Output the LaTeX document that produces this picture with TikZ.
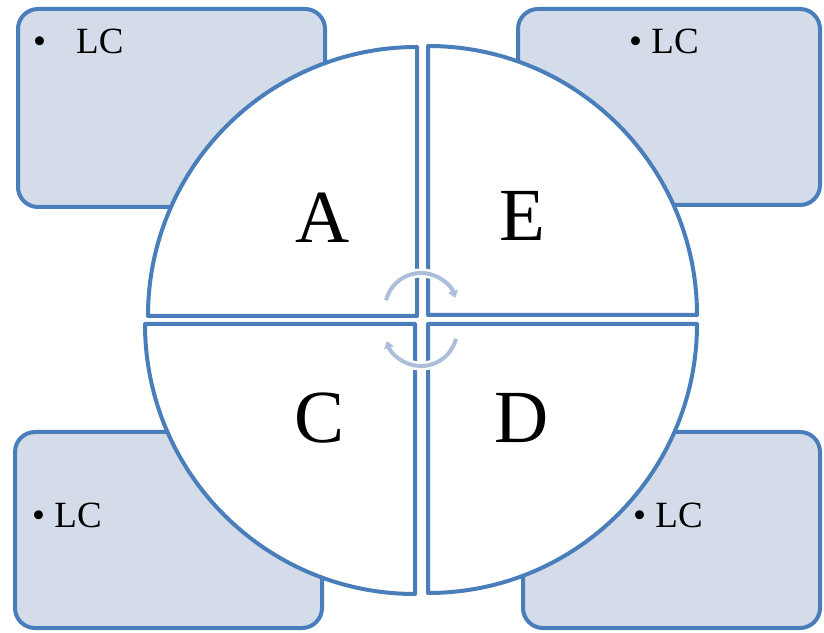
\documentclass[tikz,border=0pt]{standalone}
\usepackage{fontspec}
\setmainfont{Liberation Serif}
\usetikzlibrary{arrows.meta}
\definecolor{bord}{RGB}{74,126,187}
\definecolor{boxfill}{RGB}{212,220,234}
\definecolor{arrowc}{RGB}{172,190,218}
\tikzset{
  sidebox/.style={draw=bord, fill=boxfill, line width=4pt, rounded corners=20pt},
  quad/.style={draw=bord, fill=white, line width=4pt, line join=round},
  biglabel/.style={font=\fontsize{75}{75}\selectfont, inner sep=0pt},
  lclabel/.style={font=\fontsize{37}{37}\selectfont, inner sep=0pt, anchor=base west},
  cyc/.style={draw=arrowc, line width=4pt, -{Triangle[length=7pt,width=10pt]}},
  casing/.style={draw=white, line width=9pt}
}
\begin{document}
\begin{tikzpicture}[x=1pt,y=1pt]
\useasboundingbox (0,0) rectangle (824,632);
% side boxes
\draw[sidebox] (18,425) rectangle (325,623);
\draw[sidebox] (518,427) rectangle (820,623);
\draw[sidebox] (15,4) rectangle (322,200);
\draw[sidebox] (523,4) rectangle (820,200);
% quadrants
\draw[quad] (417,316) -- (148,316) arc[start angle=180,end angle=90,radius=269] -- cycle;
\draw[quad] (428,317) -- (428,586) arc[start angle=90,end angle=0,radius=269] -- cycle;
\draw[quad] (415,308) -- (145,308) arc[start angle=180,end angle=270,radius=270] -- cycle;
\draw[quad] (428,308) -- (697,308) arc[start angle=0,end angle=-90,radius=269] -- cycle;
% labels
\node[biglabel] (A) at (322.5,414) {A};
\node[biglabel] (E) at (522.5,416) {E};
\node[biglabel] (C) at (319.5,214) {C};
\node[biglabel] (D) at (522,214) {D};
% LC texts
\node[lclabel] (b1) at (33,578) {•};
\node[lclabel] (t1) at (76,578) {LC};
\node[lclabel] (t2) at (629,578) {• LC};
\node[lclabel] (t3) at (32,105) {• LC};
\node[lclabel] (t4) at (633,105) {• LC};
% cycle arrows
\draw[casing] (421,323) ++(166:36) arc[start angle=166,end angle=22,radius=36];
\draw[cyc] (421,323) ++(166:36) arc[start angle=166,end angle=18,radius=36];
\draw[casing] (421,302) ++(-14:36) arc[start angle=-14,end angle=-158,radius=36];
\draw[cyc] (421,302) ++(-14:36) arc[start angle=-14,end angle=-162,radius=36];
\end{tikzpicture}
\end{document}
